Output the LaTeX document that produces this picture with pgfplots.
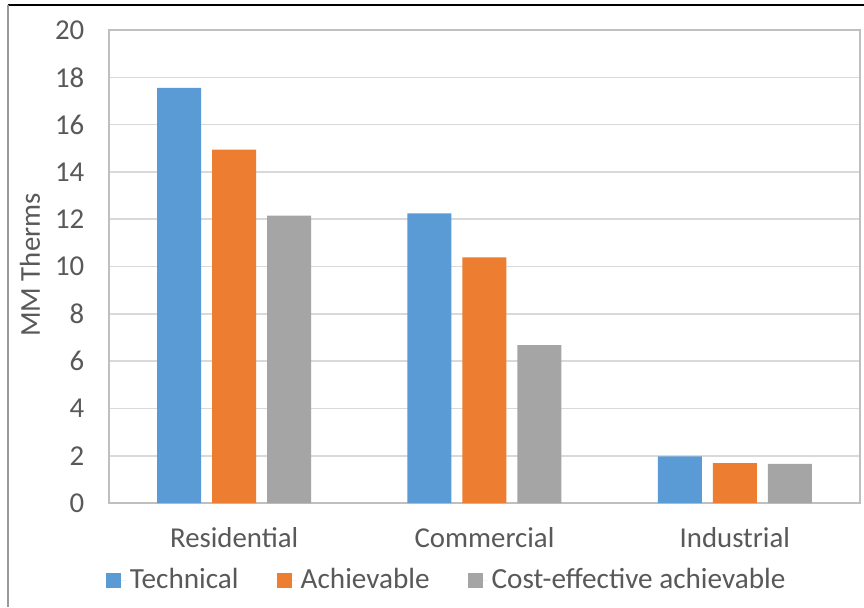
\documentclass[border=0pt]{standalone}
\usepackage{pgfplots}
\pgfplotsset{compat=1.18}
\usepackage{fontspec}
\setmainfont{Carlito}
\definecolor{cblue}{HTML}{5B9BD5}
\definecolor{corange}{HTML}{ED7D31}
\definecolor{cgray}{HTML}{A5A5A5}
\definecolor{tgray}{HTML}{595959}
\definecolor{gridc}{HTML}{D9D9D9}
\definecolor{framec}{HTML}{BFBFBF}
\begin{document}
\begin{tikzpicture}
\useasboundingbox (0pt,0pt) rectangle (432pt,303.5pt);
\fill[white] (0pt,0pt) rectangle (432pt,303.5pt);
\draw[black,line width=1pt] (4pt,301pt) -- (432pt,301pt);
\draw[gray!80,line width=0.6pt] (4pt,301pt) -- (4pt,0pt);
\begin{axis}[
  at={(54.5pt,52pt)}, anchor=south west,
  scale only axis, width=375.5pt, height=236.5pt,
  ybar=5.5pt, bar width=22pt,
  xmin=0, xmax=3, ymin=0, ymax=20,
  xtick={0.5,1.5,2.5},
  xticklabels={Residential,Commercial,Industrial},
  ytick={0,2,...,20},
  major tick length=0pt,
  xmajorgrids=false, ymajorgrids=true,
  grid style={draw=gridc, line width=0.8pt},
  axis line style={draw=framec, line width=0.8pt},
  /pgf/number format/assume math mode=true,
  tick label style={font=\fontsize{14.4}{16}\selectfont, text=tgray},
  yticklabel style={xshift=-8.8pt},
  xticklabel style={yshift=-8.8pt},
  ylabel={MM Therms},
  every axis y label/.style={at={(rel axis cs:0,0.503)}, xshift=-39.5pt, rotate=90, anchor=center, font=\fontsize{14.4}{16}\selectfont, text=tgray},
  legend columns=3,
  legend style={at={(0.451,-0.163)}, anchor=center, draw=none, fill=none,
    font=\fontsize{14.6}{16}\selectfont, text=tgray,
    /tikz/every even column/.append style={column sep=17pt}},
  legend image code/.code={\path (0pt,0pt) -- (10pt,0pt);\fill[#1,draw=none] (0pt,-3.75pt) rectangle (7.5pt,3.75pt);},
]
\addplot[fill=cblue, draw=none] coordinates {(0.5,17.55) (1.5,12.25) (2.5,1.97)};
\addplot[fill=corange, draw=none] coordinates {(0.5,14.94) (1.5,10.39) (2.5,1.69)};
\addplot[fill=cgray, draw=none] coordinates {(0.5,12.15) (1.5,6.68) (2.5,1.65)};
\legend{Technical,Achievable,Cost-effective achievable}
\end{axis}
\end{tikzpicture}
\end{document}
